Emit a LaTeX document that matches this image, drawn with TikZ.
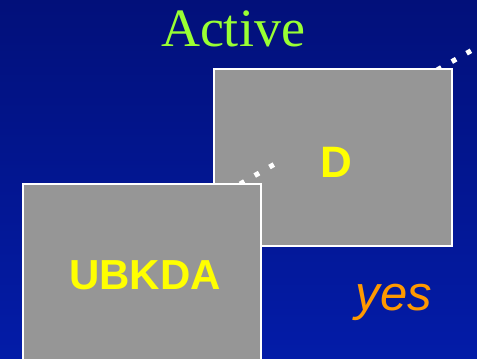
\documentclass[tikz,border=0pt]{standalone}
\usepackage{fontspec}
\setmainfont{Liberation Serif}
\setsansfont{Liberation Sans}
\definecolor{bgtop}{RGB}{2,16,122}
\definecolor{bgbot}{RGB}{3,28,168}
\definecolor{boxgray}{RGB}{150,150,150}
\definecolor{titlegreen}{RGB}{153,255,51}
\definecolor{labyellow}{RGB}{255,255,0}
\definecolor{yesorange}{RGB}{255,153,0}
\begin{document}
\begin{tikzpicture}[x=1pt,y=-1pt,
  panel/.style={draw=white,line width=1.5pt,fill=boxgray,inner sep=0pt,outer sep=0pt},
  dotline/.style={draw=white,line width=5pt,dash pattern=on 5pt off 12pt},
  labeltext/.style={font=\sffamily\bfseries\fontsize{42}{42}\selectfont,text=labyellow,anchor=base,inner sep=0pt}]
\shade[top color=bgtop,bottom color=bgbot] (0,0) rectangle (477,359);
\useasboundingbox (0,0) rectangle (477,359);
\node[font=\fontsize{54}{54}\selectfont,text=titlegreen,anchor=base,inner sep=0pt] (title) at (233,46) {Active};
\coordinate (ra) at (437,70);
\coordinate (rb) at (490,40);
\draw[dotline] (ra) -- (rb);
\node[panel,minimum width=238pt,minimum height=177pt] (d) at (333,157.5) {};
\coordinate (la) at (240,184);
\coordinate (lb) at (280,161);
\draw[dotline] (la) -- (lb);
\node[labeltext,font=\sffamily\bfseries\fontsize{44}{44}\selectfont] (dl) at (336,177) {D};
\node[panel,minimum width=238pt,minimum height=200pt] (u) at (142,284) {};
\node[labeltext] (ul) at (145,289) {UBKDA};
\node[font=\sffamily\itshape\fontsize{49}{49}\selectfont,text=yesorange,anchor=base,inner sep=0pt] (yes) at (394,310) {yes};
\end{tikzpicture}
\end{document}
